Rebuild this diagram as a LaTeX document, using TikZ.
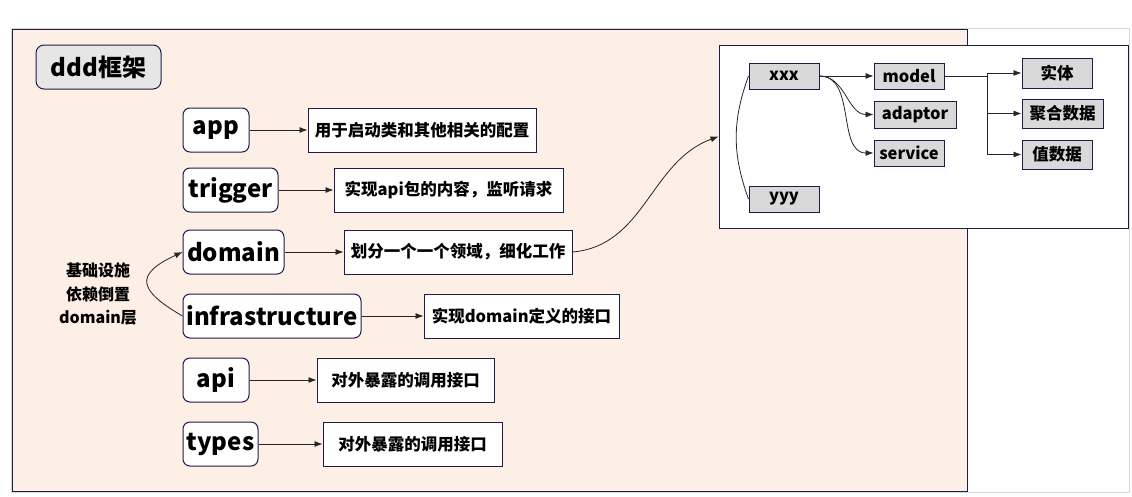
\documentclass[tikz,border=0pt]{standalone}
\usepackage{fontspec}
\setmainfont{Noto Sans CJK SC}
\usetikzlibrary{arrows.meta,positioning}
\definecolor{dddnavy}{HTML}{1C1C4A}
\definecolor{dddpeach}{HTML}{FDEEE6}
\definecolor{dddtitle}{HTML}{E6E6E6}
\definecolor{dddcell}{HTML}{D9D9D9}
\definecolor{dddline}{HTML}{262626}
\definecolor{dddframe}{HTML}{D9D9D9}

\tikzset{
  layer/.style={draw=dddnavy, fill=white, rounded corners=7pt, line width=1pt,
        minimum height=44pt, inner sep=3pt,
        font=\fontsize{24}{28}\selectfont\bfseries},
  note/.style={draw=dddnavy, fill=white, line width=1pt,
        minimum height=44pt, inner sep=0pt,
        font=\fontsize{16.5}{19}\selectfont\bfseries},
  cell/.style={draw=dddnavy, fill=dddcell, line width=1pt,
        minimum height=26pt, inner sep=0pt,
        font=\fontsize{16.5}{19}\selectfont\bfseries},
  link/.style={draw=dddline, line width=0.8pt, -{Latex[length=8pt,width=6pt]}},
}

\begin{document}
\begin{tikzpicture}[x=1pt,y=1pt]

  \useasboundingbox (0,0) rectangle (1132,-496);

  %% Frames
  \draw[dddframe, line width=1pt] (11,-28) rectangle (1129,-492);
  \draw[dddnavy, fill=dddpeach, line width=1pt] (12,-29) rectangle (967,-491);

  %% Title
  \node[draw=dddnavy, fill=dddtitle, rounded corners=8pt, line width=1pt,
        minimum width=125pt, minimum height=44pt,
        font=\fontsize{24}{28}\selectfont\bfseries]
    (title) at (98.5,-67) {ddd框架};

  %% Layers
  \node[layer, minimum width=66pt]  (app)     at (216,-130)   {app};
  \node[layer, minimum width=95pt]  (trigger) at (230.5,-190) {trigger};
  \node[layer, minimum width=101pt] (domain)  at (233.5,-252) {domain};
  \node[layer, minimum width=178pt] (infra)   at (272,-316)   {infrastructure};
  \node[layer, minimum width=66pt]  (api)     at (216,-380)   {api};
  \node[layer, minimum width=75pt]  (types)   at (220.5,-444) {types};

  %% Notes
  \node[note, minimum width=228pt] (appnote)   at (422,-130)   {用于启动类和其他相关的配置};
  \node[note, minimum width=229pt] (trignote)  at (448.5,-190) {实现api包的内容，监听请求};
  \node[note, minimum width=228pt] (domnote)   at (458,-252)   {划分一个一个领域，细化工作};
  \node[note, minimum width=195pt] (infranote) at (521.5,-316) {实现domain定义的接口};
  \node[note, minimum width=177pt] (apinote)   at (405.5,-380) {对外暴露的调用接口};
  \node[note, minimum width=179pt] (typesnote) at (412.5,-444) {对外暴露的调用接口};

  \draw[link] (app)     -- (appnote);
  \draw[link] (trigger) -- (trignote);
  \draw[link] (domain)  -- (domnote);
  \draw[link] (infra)   -- (infranote);
  \draw[link] (api)     -- (apinote);
  \draw[link] (types)   -- (typesnote);

  %% Dependency inversion
  \node[align=center, font=\fontsize{16}{23.5}\selectfont\bfseries]
    (inversion) at (98,-294) {基础设施\\依赖倒置\\domain层};
  \draw[link] (infra.west) to[out=150,in=205,looseness=2.1] (domain.west);

  %% Domain package
  \node[draw=dddnavy, fill=white, line width=1pt, inner sep=0pt,
        minimum width=409pt, minimum height=183pt]
    (pkg) at (923.5,-136.5) {};
  \draw[link] (domnote.east) to[out=5,in=200] (pkg.west);

  \node[cell, minimum width=70pt] (xxx)     at (784,-76)  {xxx};
  \node[cell, minimum width=70pt] (yyy)     at (784,-199) {yyy};
  \node[cell, minimum width=70pt] (model)   at (909,-76)  {model};
  \node[cell, minimum width=82pt, minimum height=27pt]
    (adaptor) at (915,-114.5) {adaptor};
  \node[cell, minimum width=70pt] (service) at (909,-153) {service};

  \node[cell, minimum width=70pt, minimum height=30pt] (entity) at (1057,-73)    {实体};
  \node[cell, minimum width=81pt, minimum height=29pt] (aggr)   at (1062.5,-113.5) {聚合数据};
  \node[cell, minimum width=70pt, minimum height=29pt] (value)  at (1057,-154.5) {值数据};

  \draw[dddline, line width=0.8pt] (xxx.west) to[out=250,in=110] (yyy.west);
  \draw[link] (xxx) -- (model);
  \draw[link] (xxx.east) to[out=0,in=180] (adaptor.west);
  \draw[link] (xxx.east) to[out=0,in=180] (service.west);

  \draw[dddline, line width=0.8pt] (model.east) -- ++(43,0) coordinate (fork);
  \draw[link] (fork) |- (entity.west);
  \draw[link] (fork) |- (aggr.west);
  \draw[link] (fork) |- (value.west);

\end{tikzpicture}
\end{document}
